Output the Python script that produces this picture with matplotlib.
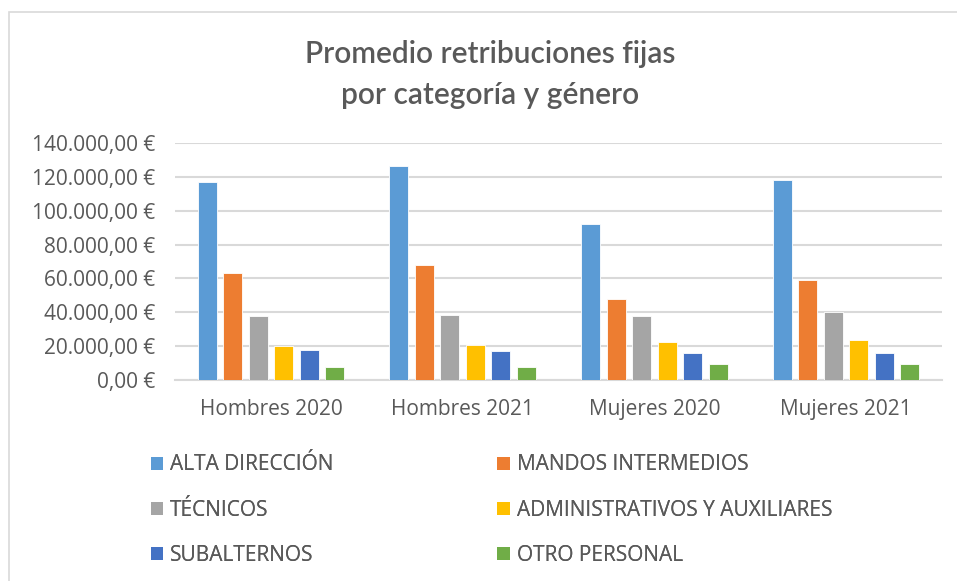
import matplotlib
matplotlib.use("Agg")
import matplotlib.pyplot as plt
import numpy as np
from matplotlib.patches import Rectangle, Patch
from matplotlib.ticker import FuncFormatter

categories = ["Hombres 2020", "Hombres 2021", "Mujeres 2020", "Mujeres 2021"]
series_names = ["ALTA DIRECCIÓN", "MANDOS INTERMEDIOS", "TÉCNICOS",
                "ADMINISTRATIVOS Y AUXILIARES", "SUBALTERNOS", "OTRO PERSONAL"]
alta_direccion = [116700, 126600, 92200, 118100]
mandos_intermedios = [63300, 67900, 48100, 59000]
tecnicos = [37600, 38400, 37600, 40000]
administrativos = [19800, 20800, 22400, 23900]
subalternos = [17800, 17000, 16200, 16200]
otro_personal = [7900, 7900, 9300, 9300]
yticks = [0, 20000, 40000, 60000, 80000, 100000, 120000, 140000]

series = [alta_direccion, mandos_intermedios, tecnicos, administrativos, subalternos, otro_personal]
colors = ["#5B9BD5", "#ED7D31", "#A5A5A5", "#FFC000", "#4472C4", "#70AD47"]
txt = "#595959"
tfont = "Lato"
font = "Open Sans"
fs = 15.0

W, H = 957, 581
fig = plt.figure(figsize=(W / 100, H / 100), dpi=100)
fig.patch.set_facecolor("white")

# outer chart border
fig.patches.append(Rectangle((9 / W, -0.05), 1.2, 1 - 12 / H + 0.05, transform=fig.transFigure,
                             fill=False, edgecolor="#D9D9D9", linewidth=1.2))

ax = fig.add_axes([175 / W, 1 - 380 / H, (942 - 175) / W, (380 - 143) / H])
x = np.arange(len(categories))
pitch, width = 0.133, 0.10
for i, (vals, c) in enumerate(zip(series, colors)):
    ax.bar(x + (i - 2.5) * pitch, vals, width=width, color=c, edgecolor="white",
           linewidth=0.6, zorder=3, label=series_names[i])

ax.set_xlim(-0.5, len(categories) - 0.5)
ax.set_ylim(0, 140000)
ax.set_yticks(yticks)
ax.yaxis.set_major_formatter(FuncFormatter(
    lambda v, p: "{:,.2f} €".format(v).replace(",", "X").replace(".", ",").replace("X", ".")))
ax.set_xticks(x)
ax.set_xticklabels(categories)
ax.grid(axis="y", color="#D9D9D9", linewidth=1.5, zorder=0)
for s in ["top", "right", "left"]:
    ax.spines[s].set_visible(False)
ax.spines["bottom"].set_color("#D9D9D9")
ax.spines["bottom"].set_linewidth(1.5)
ax.tick_params(axis="both", length=0, labelcolor=txt, labelsize=fs)
ax.tick_params(axis="y", pad=14)
ax.tick_params(axis="x", pad=14)
for lab in ax.get_xticklabels() + ax.get_yticklabels():
    lab.set_fontfamily(font)

fig.text(490 / W, 1 - 54 / H, "Promedio retribuciones fijas", ha="center", va="center",
         fontsize=21.5, color=txt, family=tfont, fontweight="semibold")
fig.text(490 / W, 1 - 95 / H, "por categoría y género", ha="center", va="center",
         fontsize=21.5, color=txt, family=tfont, fontweight="semibold")

col_x = [150.5, 497.5]
row_y = [465, 510.5, 555.5]
for i, (name, c) in enumerate(zip(series_names, colors)):
    r, col = divmod(i, 2)
    leg = fig.legend([Patch(facecolor=c, edgecolor="none")], [name],
                     loc="center left", bbox_to_anchor=(col_x[col] / W, 1 - row_y[r] / H),
                     frameon=False, borderpad=0, borderaxespad=0,
                     handlelength=0.6, handleheight=0.6, handletextpad=0.32,
                     prop={"family": font, "size": fs}, labelcolor=txt)
    fig.add_artist(leg)

fig.savefig("out.png", dpi=100, facecolor="white")
